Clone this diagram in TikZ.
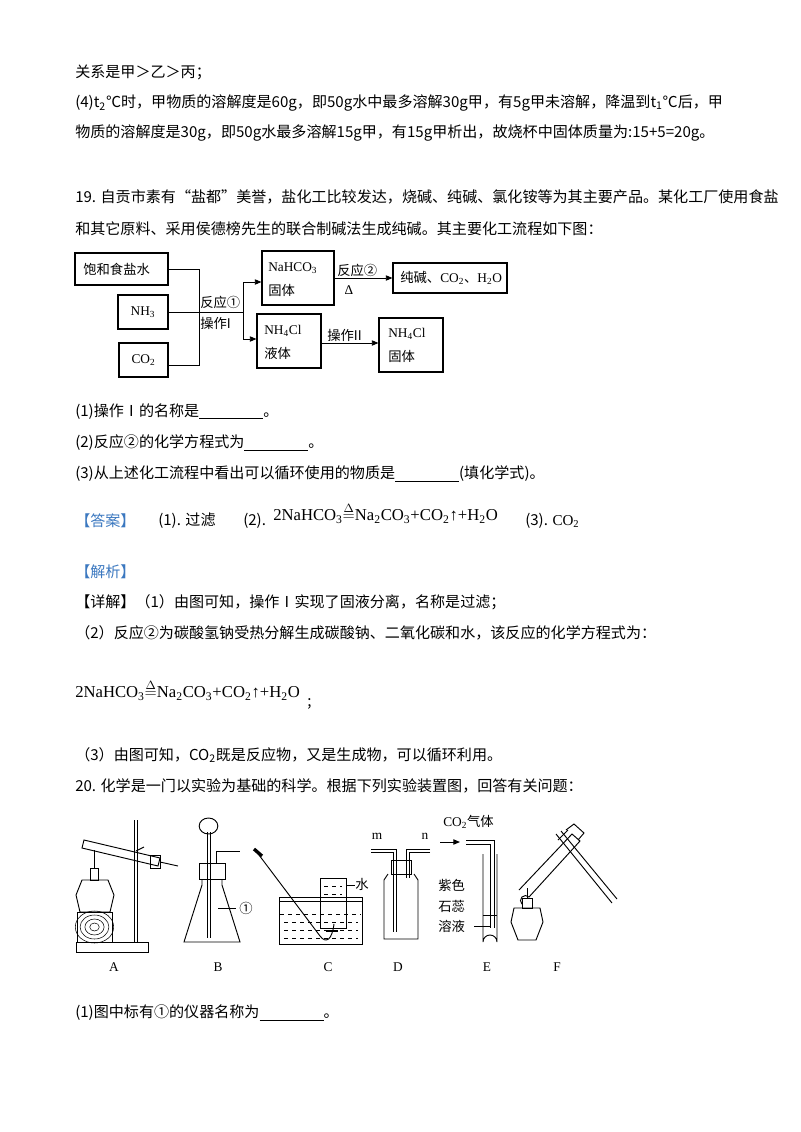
\documentclass[tikz,border=0pt]{standalone}
\usepackage{fontspec}
\setmainfont{Noto Sans CJK SC}
\newfontfamily\tms{Liberation Serif}
\usetikzlibrary{arrows.meta}
\definecolor{ansblue}{HTML}{3B78C0}
\newcommand{\heq}{$\stackrel{\Delta}{=}$}
\tikzset{
 txt/.style={anchor=west,inner sep=0pt,font=\fontsize{11.3}{13}\selectfont},
 fbox/.style={draw,line width=0.8pt,inner sep=0pt},
 ftxt/.style={anchor=west,inner sep=0pt,font=\fontsize{10}{12}\selectfont},
 fl/.style={line width=0.7pt},
 fa/.style={line width=0.7pt,-{Triangle[length=5pt,width=4pt]}},
 app/.style={line width=0.7pt},
 lab/.style={inner sep=0pt,font=\tms\fontsize{10}{12}\selectfont},
 eq/.style={anchor=west,inner sep=0pt,font=\tms\fontsize{12.5}{14}\selectfont},
}
\begin{document}
\begin{tikzpicture}[x=0.75pt,y=-0.75pt]
\useasboundingbox (0,0) rectangle (800,1132);
\fill[white] (0,0) rectangle (800,1132);
% top text
\node[txt] (l1) at (75,72) {关系是甲＞乙＞丙；};
\node[txt] (l2) at (75,103) {(4)t\textsubscript{2}℃时，甲物质的溶解度是60g，即50g水中最多溶解30g甲，有5g甲未溶解，降温到t\textsubscript{1}℃后，甲};
\node[txt] (l3) at (75,133) {物质的溶解度是30g，即50g水最多溶解15g甲，有15g甲析出，故烧杯中固体质量为:15+5=20g。};
\node[txt] (q1) at (75,197) {19. 自贡市素有“盐都”美誉，盐化工比较发达，烧碱、纯碱、氯化铵等为其主要产品。某化工厂使用食盐};
\node[txt] (q2) at (75,229) {和其它原料、采用侯德榜先生的联合制碱法生成纯碱。其主要化工流程如下图：};
% flowchart
\node[fbox,minimum width=93pt*0.75,minimum height=32pt*0.75] (b1) at (121.5,269) {};
\node[ftxt] at (83,269) {饱和食盐水};
\node[fbox,minimum width=50pt*0.75,minimum height=34pt*0.75] (b2) at (143,312) {};
\node[lab] at (143,312) {NH\textsubscript{3}};
\node[fbox,minimum width=49pt*0.75,minimum height=34pt*0.75] (b3) at (143.5,360) {};
\node[lab] at (143.5,360) {CO\textsubscript{2}};
\coordinate (v1) at (199,269); \coordinate (v2) at (199,365);
\draw[fl] (b1.east) -- (v1) -- (v2) -- (b3.east |- v2);
\coordinate (s1) at (243,282); \coordinate (s2) at (243,339);
\draw[fl] (b2.east) -- (243,312);
\draw[fl] (s1) -- (s2);
\node[fbox,minimum width=72pt*0.75,minimum height=54pt*0.75] (n1) at (298,278) {};
\node[lab,anchor=west] at (268,268) {NaHCO\textsubscript{3}};
\node[ftxt] at (268,290) {固体};
\node[fbox,minimum width=64pt*0.75,minimum height=54pt*0.75] (n2) at (289,341) {};
\node[lab,anchor=west] at (264,331) {NH\textsubscript{4}Cl};
\node[ftxt] at (264,353) {液体};
\draw[fa] (s1) -- (s1 -| n1.west);
\draw[fa] (s2) -- (s2 -| n2.west);
\node[ftxt] at (200,302) {反应①};
\node[ftxt] at (200,323) {操作I};
\node[fbox,minimum width=114pt*0.75,minimum height=30pt*0.75] (n3) at (450,278) {};
\node[ftxt] at (400,278) {纯碱、{\tms CO\textsubscript{2}}、{\tms H\textsubscript{2}O}};
\draw[fa] (n1.east |- n3) -- (n3.west);
\node[ftxt] at (337,270) {反应②};
\node[lab] at (349,290) {Δ};
\node[fbox,minimum width=64pt*0.75,minimum height=54pt*0.75] (n4) at (411,345) {};
\node[lab,anchor=west] at (388,334) {NH\textsubscript{4}Cl};
\node[ftxt] at (388,356) {固体};
\draw[fa] (n2.east |- 0,343) -- (n4.west |- 0,343);
\node[ftxt] at (327,335) {操作II};
% questions
\node[txt] at (75,412) {(1)操作Ⅰ的名称是\underline{\hspace{48pt}}。};
\node[txt] at (75,443) {(2)反应②的化学方程式为\underline{\hspace{48pt}}。};
\node[txt] at (75,474) {(3)从上述化工流程中看出可以循环使用的物质是\underline{\hspace{48pt}}(填化学式)。};
\node[txt,text=ansblue] at (75,521) {【答案】};
\node[txt] at (158,521) {(1). 过滤};
\node[txt] at (243,521) {(2).};
\node[eq] at (273,513) {2NaHCO\textsubscript{3}\heq Na\textsubscript{2}CO\textsubscript{3}+CO\textsubscript{2}↑+H\textsubscript{2}O};
\node[txt] at (525,521) {(3). {\tms CO\textsubscript{2}}};
\node[txt,text=ansblue] at (75,572) {【解析】};
\node[txt] at (75,602) {【详解】（1）由图可知，操作Ⅰ实现了固液分离，名称是过滤；};
\node[txt] at (75,633) {（2）反应②为碳酸氢钠受热分解生成碳酸钠、二氧化碳和水，该反应的化学方程式为：};
\node[eq] at (75,690) {2NaHCO\textsubscript{3}\heq Na\textsubscript{2}CO\textsubscript{3}+CO\textsubscript{2}↑+H\textsubscript{2}O};
\node[txt] at (307,704) {;};
\node[txt] at (75,755) {（3）由图可知，CO\textsubscript{2}既是反应物，又是生成物，可以循环利用。};
\node[txt] at (75,786) {20. 化学是一门以实验为基础的科学。根据下列实验装置图，回答有关问题：};
% ---- apparatus A
\draw[app] (76,942) rectangle (148,952);
\draw[app] (134,820) -- (134,942); \draw[app] (137,820) -- (137,942);
\draw[app] (77,912) rectangle (112,942);
\foreach \r in {3,6,9,12} \draw[line width=0.4pt] (94.5,927) ellipse ({\r*1.2 pt} and {\r pt});
\draw[app] (80,912) -- (76,895) -- (82,880) -- (108,880) -- (114,895) -- (110,912) -- cycle;
\draw[app] (90,880) rectangle (98,868);
\draw[app] (94,868) -- (94,850);
\draw[app] (84,840) -- (160,858) -- (158,866) -- (82,848) -- cycle;
\draw[app] (150,855) rectangle (160,868);
\draw[app] (160,862) -- (178,866);
\draw[app] (136,851) -- (144,847);
% B
\draw[app] (202,879) -- (202,885) -- (184,942) -- (240,942) -- (222,885) -- (222,879);
\draw[app] (199,863) rectangle (225,879);
\draw[app] (207,832) -- (207,938); \draw[app] (210,832) -- (210,938);
\draw[app] (208.5,826) ellipse (7pt and 6pt);
\draw[app] (216,863) -- (216,851) -- (240,851);
\draw[app] (218,908) -- (236,908);
\node[ftxt,anchor=center] at (246,908) {①};
% C
\draw[app] (279,897) -- (279,944) -- (362,944) -- (362,897) -- cycle;
\draw[app] (279,901) -- (362,901);
\draw[app,dashed] (280,914) -- (361,914);
\foreach \yy in {922,930,938} \draw[line width=0.5pt,dash pattern=on 3pt off 3pt] (284,\yy) -- (358,\yy);
\draw[app] (320,878) -- (320,928) -- (346,928) -- (346,878) -- cycle;
\foreach \yy in {886,894} \draw[line width=0.5pt,dash pattern=on 3pt off 3pt] (324,\yy) -- (342,\yy);
\draw[app] (346,885) -- (355,885);
\node[ftxt] at (355,884) {水};
\draw[app] (256,851) -- (320,936) .. controls (326,944) and (332,940) .. (334,924);
\draw[line width=2.5pt] (254,849) -- (262,856);
\draw[line width=1.5pt] (326,931) -- (338,931);
% D
\draw[app] (388,874) -- (384,880) -- (384,939) -- (418,939) -- (418,880) -- (414,874);
\draw[app] (391,860) rectangle (411,874);
\draw[app] (371,849) -- (396,849) -- (396,932);
\draw[app] (371,852) -- (393,852) -- (393,932);
\draw[app] (430,849) -- (406,849) -- (406,878);
\draw[app] (430,852) -- (409,852) -- (409,878);
\node[lab] at (377,836) {m};
\node[lab] at (425,836) {n};
% E
\node[ftxt] at (443,822) {{\tms CO\textsubscript{2}}气体};
\draw[fa] (440,842) -- (460,842);
\draw[app] (466,840) -- (494,840) -- (494,928);
\draw[app] (466,844) -- (490,844) -- (490,928);
\draw[app] (483,854) -- (483,942) arc (180:360:7) -- (497,854);
\draw[line width=0.4pt] (483,915) -- (497,915);
\draw[app] (474,926) -- (490,926);
\node[ftxt] at (438,885) {紫色};
\node[ftxt] at (438,906) {石蕊};
\node[ftxt] at (438,926) {溶液};
% F
\draw[app] (514,908) -- (511,922) -- (518,940) -- (536,940) -- (543,922) -- (540,908) -- cycle;
\draw[app] (522,908) rectangle (532,898);
\draw[app] (527,898) -- (527,888);
\draw[app] (519,890) -- (572,834) -- (580,841) -- (529,897) arc (-45:-225:5) ;
\draw[app] (566,830) -- (574,824) -- (584,833) -- (578,840);
\draw[app] (556,834) -- (612,903); \draw[app] (561,831) -- (617,899);
\draw[app] (558,840) -- (568,830);
% labels
\node[lab] (la) at (114,967) {A};
\node[lab] (lb) at (218,967) {B};
\node[lab] (lc) at (328,967) {C};
\node[lab] (ld) at (398,967) {D};
\node[lab] (le) at (487,967) {E};
\node[lab] (lf) at (557,967) {F};
\node[txt] at (75,1013) {(1)图中标有①的仪器名称为\underline{\hspace{48pt}}。};
\end{tikzpicture}
\end{document}
